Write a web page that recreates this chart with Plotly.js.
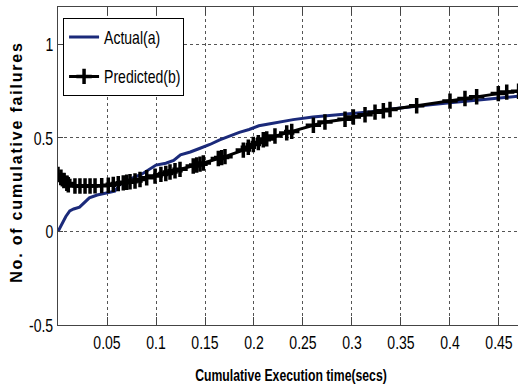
<!DOCTYPE html>
<html>
<head>
<meta charset="utf-8">
<script src="https://cdn.plot.ly/plotly-3.0.1.min.js"></script>
<style>
html,body{margin:0;padding:0;background:#fff;overflow:hidden;}
#chart{width:518px;height:389px;}
</style>
</head>
<body>
<div id="chart"></div>
<script>
// Actual (a): cumulative failures (normalised) vs cumulative execution time
const actualX = [0, 0.004, 0.008, 0.012, 0.016, 0.022, 0.026, 0.032, 0.04, 0.05, 0.058, 0.063, 0.07, 0.078, 0.085, 0.095, 0.1, 0.11, 0.118, 0.125, 0.135, 0.145, 0.155, 0.165, 0.175, 0.185, 0.195, 0.205, 0.215, 0.225, 0.24, 0.26, 0.28, 0.30, 0.32, 0.34, 0.36, 0.38, 0.40, 0.42, 0.44, 0.46, 0.47];
const actualY = [0, 0.04, 0.08, 0.11, 0.12, 0.13, 0.15, 0.18, 0.195, 0.205, 0.215, 0.25, 0.27, 0.29, 0.305, 0.34, 0.355, 0.365, 0.38, 0.41, 0.425, 0.445, 0.465, 0.49, 0.51, 0.53, 0.545, 0.565, 0.575, 0.585, 0.598, 0.612, 0.62, 0.628, 0.64, 0.655, 0.668, 0.678, 0.688, 0.698, 0.708, 0.718, 0.723];

// Predicted (b)
const predX = [0, 0.003, 0.006, 0.009, 0.0105, 0.0173, 0.0224, 0.0276, 0.0327, 0.0378, 0.0446, 0.0513, 0.0564, 0.0615, 0.0666, 0.0701, 0.0735, 0.0786, 0.0837, 0.0905, 0.099, 0.105, 0.11, 0.1143, 0.1194, 0.1245, 0.138, 0.1415, 0.1449, 0.1483, 0.1636, 0.167, 0.1704, 0.1891, 0.1942, 0.1993, 0.2044, 0.2095, 0.213, 0.2214, 0.2334, 0.2385, 0.2606, 0.2724, 0.2929, 0.3014, 0.3133, 0.3235, 0.332, 0.3388, 0.366, 0.4, 0.4153, 0.4272, 0.4493, 0.4579, 0.47];
const predY = [0.305, 0.29, 0.272, 0.257, 0.25, 0.243, 0.243, 0.243, 0.243, 0.244, 0.245, 0.247, 0.252, 0.256, 0.26, 0.263, 0.266, 0.27, 0.278, 0.287, 0.296, 0.305, 0.31, 0.318, 0.325, 0.332, 0.35, 0.355, 0.36, 0.366, 0.39, 0.395, 0.4, 0.435, 0.45, 0.465, 0.475, 0.49, 0.495, 0.51, 0.527, 0.535, 0.568, 0.585, 0.6, 0.612, 0.624, 0.638, 0.645, 0.652, 0.672, 0.697, 0.711, 0.72, 0.737, 0.745, 0.75];

const xTickVals = [0.05, 0.1, 0.15, 0.2, 0.25, 0.3, 0.35, 0.4, 0.45];
const xTickText = ["0.05", "0.1", "0.15", "0.2", "0.25", "0.3", "0.35", "0.4", "0.45"];
const yTickVals = [-0.5, 0, 0.5, 1];
const yTickText = ["-0.5", "0", "0.5", "1"];

const sans = "Liberation Sans, Arial, sans-serif";

const traces = [
  {
    x: actualX, y: actualY, type: 'scatter', mode: 'lines',
    name: 'Actual(a)', legendgroup: 'a',
    line: {color: '#1b2a7a', width: 3}
  },
  {
    x: predX, y: predY, type: 'scatter', mode: 'lines+markers',
    name: 'Predicted(b)', legendgroup: 'b',
    line: {color: '#000000', width: 3},
    marker: {symbol: 'cross-thin', size: 11, color: '#000', line: {color: '#000', width: 3.5}}
  }
];

const layout = {
  width: 518, height: 389,
  margin: {l: 58, r: 0, t: 7, b: 64, pad: 0},
  paper_bgcolor: '#fff', plot_bgcolor: '#fff',
  font: {family: sans, size: 18, color: '#000'},
  showlegend: true,
  legend: {
    x: 0.011, y: 0.966, xanchor: 'left', yanchor: 'top',
    bgcolor: '#fff', bordercolor: '#000', borderwidth: 1,
    font: {family: sans, size: 18, color: '#000'},
    tracegroupgap: 13, itemwidth: 30
  },
  xaxis: {
    range: [0, 0.4694], autorange: false,
    tickvals: xTickVals, ticktext: xTickText,
    ticks: 'inside', ticklen: 8, tickcolor: '#444', tickwidth: 1,
    showline: true, linecolor: '#444', linewidth: 1, mirror: 'ticks',
    showgrid: true, gridcolor: '#555', griddash: 'dot', gridwidth: 1,
    zeroline: false,
    tickfont: {family: sans, size: 19, color: '#000'},
    title: {text: 'Cumulative Execution time(secs)', font: {family: sans, size: 17, color: '#000', weight: 'bold'}, standoff: 6}
  },
  yaxis: {
    range: [-0.5, 1.2], autorange: false,
    tickvals: yTickVals, ticktext: yTickText,
    ticks: 'inside', ticklen: 5, tickcolor: '#444', tickwidth: 1,
    showline: true, linecolor: '#444', linewidth: 1,
    showgrid: true, gridcolor: '#555', griddash: 'dot', gridwidth: 1,
    zeroline: false,
    tickfont: {family: sans, size: 19, color: '#000'},
    title: {text: 'No. of cumulative failures', font: {family: sans, size: 16, color: '#000', weight: 'bold'}, standoff: 4}
  }
};

// horizontally condense a text element about its anchor point (narrow-font look)
function squeeze(el, s) {
  const x = parseFloat(el.getAttribute('x')) || 0;
  const t = el.getAttribute('transform') || '';
  el.setAttribute('transform', t + ' translate(' + x + ',0) scale(' + s + ',1) translate(' + (-x) + ',0)');
}
function shiftTo(g, cx, cy) {
  const r = g.getBoundingClientRect();
  const dx = cx == null ? 0 : cx - (r.left + r.width / 2);
  const dy = cy == null ? 0 : cy - (r.top + r.height / 2);
  g.setAttribute('transform', 'translate(' + dx + ',' + dy + ')');
}

Plotly.newPlot('chart', traces, layout, {displayModeBar: false, staticPlot: true}).then(function (gd) {
  gd.querySelectorAll('.xtick text, .ytick text').forEach(function (el) { squeeze(el, 0.74); });
  gd.querySelectorAll('.legendtext').forEach(function (el) { squeeze(el, 0.78); });
  const xt = gd.querySelector('.g-xtitle text');
  if (xt) { squeeze(xt, 0.72); }
  const yt = gd.querySelector('.g-ytitle text');
  if (yt) { yt.style.letterSpacing = '1.8px'; }
  const gx = gd.querySelector('.g-xtitle');
  if (gx) shiftTo(gx, 291, 375);
  const gy = gd.querySelector('.g-ytitle');
  if (gy) shiftTo(gy, 19, 162);
  // fit legend frame to condensed text
  const bg = gd.querySelector('.legend .bg');
  if (bg) {
    const bl = bg.getBoundingClientRect().left;
    let maxR = 0;
    gd.querySelectorAll('.legendtext').forEach(function (el) {
      maxR = Math.max(maxR, el.getBoundingClientRect().right);
    });
    bg.setAttribute('width', Math.round(maxR - bl + 3));
  }
});
</script>
</body>
</html>
